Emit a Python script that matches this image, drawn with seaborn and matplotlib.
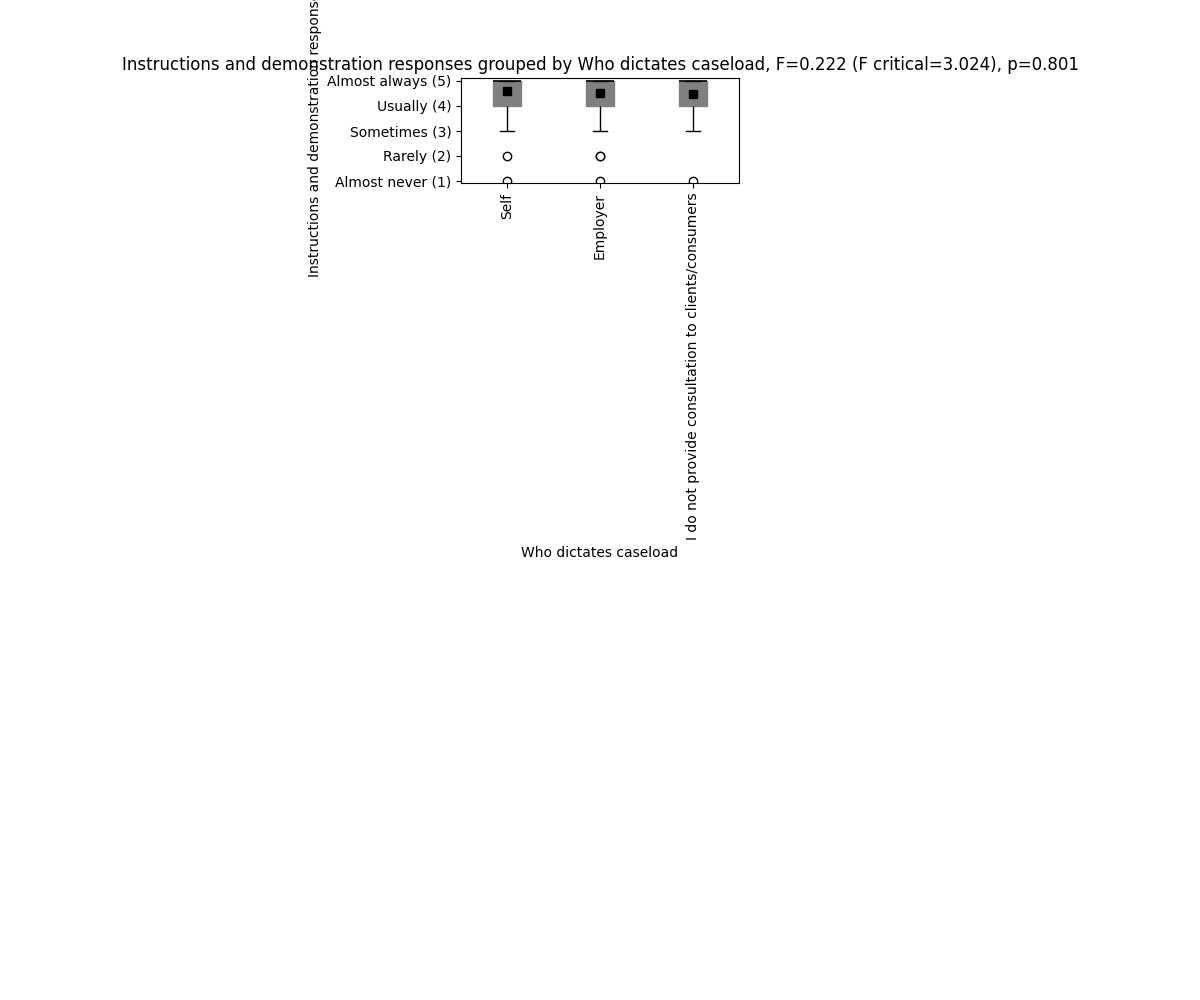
import matplotlib
matplotlib.use("Agg")
import matplotlib.pyplot as plt
import numpy as np
import pandas as pd
import seaborn as sns

# ----- data ------------------------------------------------------------------
GROUPS = ["Self", "Employer", "I do not provide consultation to clients/consumers"]
LEVELS = [1, 2, 3, 4, 5]
LEVEL_LABELS = ["Almost never (1)", "Rarely (2)", "Sometimes (3)",
                "Usually (4)", "Almost always (5)"]
# response counts per level (1..5) for each group
COUNTS_SELF = [1, 1, 3, 30, 65]
COUNTS_EMPLOYER = [1, 2, 3, 33, 62]
COUNTS_NONE = [1, 0, 4, 40, 55]

TITLE = ("Instructions and demonstration responses grouped by Who dictates caseload, "
         "F=0.222 (F critical=3.024), p=0.801")
YLABEL = "Instructions and demonstration responses"
XLABEL = "Who dictates caseload"

rows = []
for g, counts in zip(GROUPS, [COUNTS_SELF, COUNTS_EMPLOYER, COUNTS_NONE]):
    vals = np.repeat(LEVELS, counts)
    rows.append(pd.DataFrame({"group": g, "value": vals}))
df = pd.concat(rows, ignore_index=True)

# ----- plot ------------------------------------------------------------------
fig = plt.figure(figsize=(12, 10), dpi=100)
ax = fig.add_axes([0.3842, 0.817, 0.2316, 0.105])

sns.boxplot(data=df, x="group", y="value", order=GROUPS, ax=ax,
            color="gray", saturation=1, width=0.3, linecolor="black",
            showmeans=True,
            boxprops={"facecolor": "gray", "edgecolor": "gray"},
            medianprops={"color": "black", "linewidth": 1.2},
            whiskerprops={"color": "black", "linewidth": 1},
            capprops={"color": "black", "linewidth": 1},
            meanprops={"marker": "s", "markerfacecolor": "black",
                       "markeredgecolor": "black", "markersize": 6},
            flierprops={"marker": "o", "markerfacecolor": "white",
                        "markeredgecolor": "black", "markersize": 6})

ax.set_ylim(0.9, 5.1)
ax.set_xlim(-0.5, 2.5)
ax.set_yticks(LEVELS)
ax.set_yticklabels(LEVEL_LABELS)
ax.tick_params(axis="x", labelrotation=90)
ax.set_xlabel(XLABEL)
ax.set_ylabel(YLABEL)
ax.set_title(TITLE, fontsize=12)

fig.savefig("out.png", dpi=100)
